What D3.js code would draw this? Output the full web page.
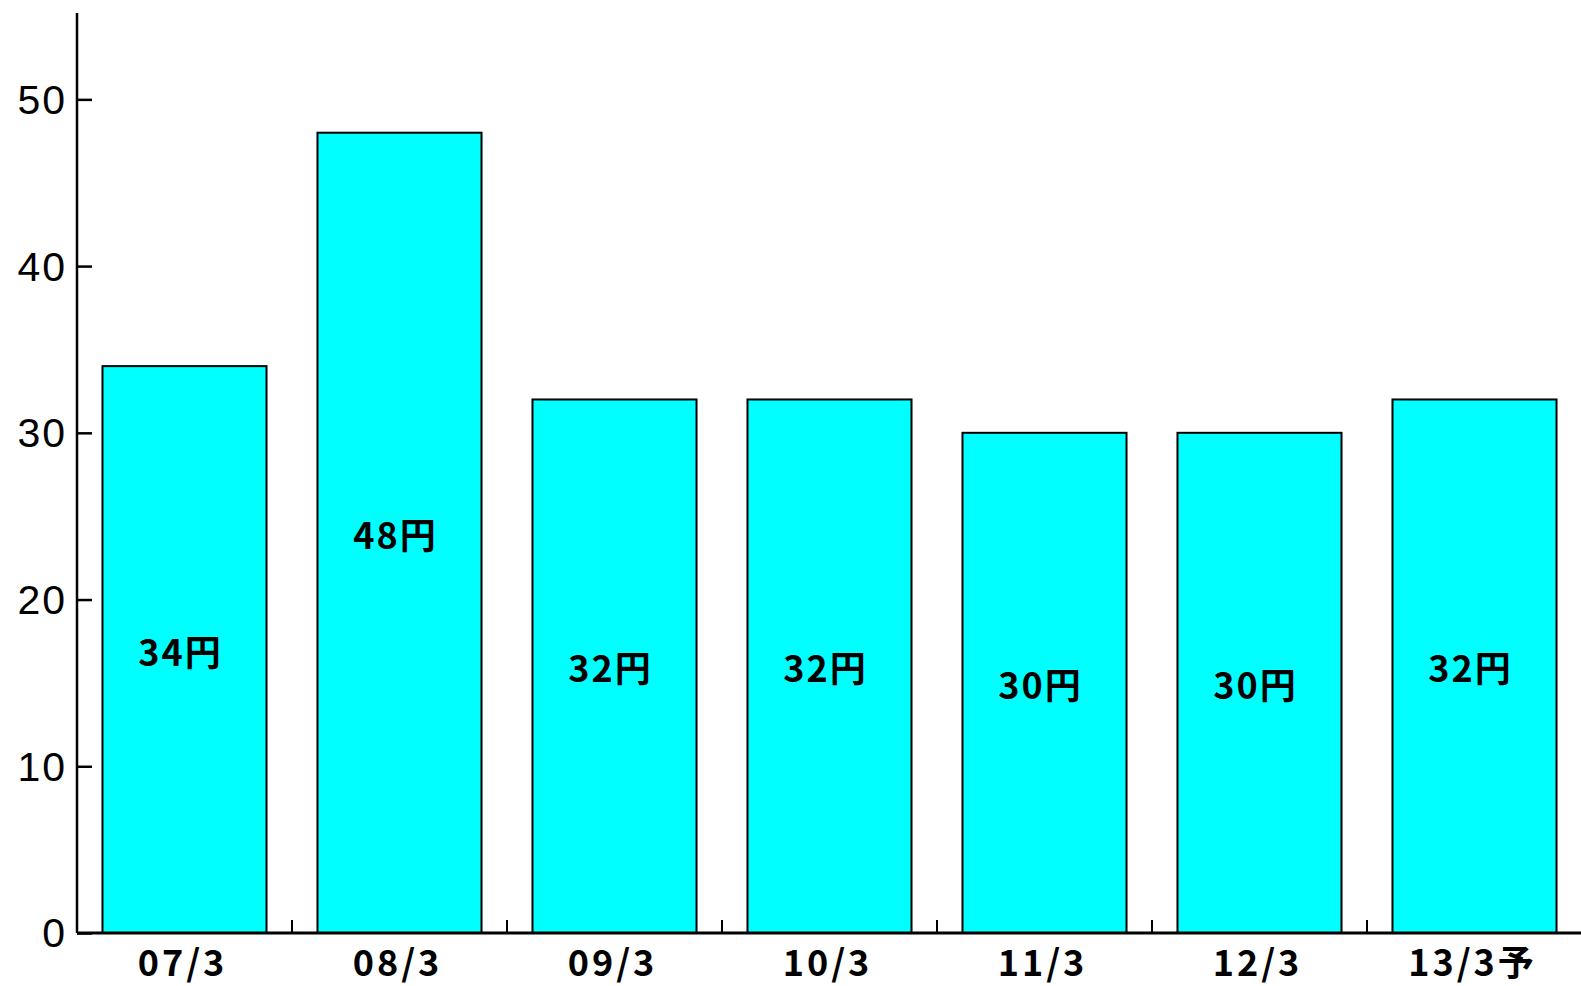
<!DOCTYPE html>
<html>
<head>
<meta charset="utf-8">
<script src="https://cdn.jsdelivr.net/npm/d3@7"></script>
<style>
html,body{margin:0;padding:0;background:#fff;}
svg{display:block;}
</style>
</head>
<body>
<svg id="chart" width="1581" height="986"></svg>
<script>
const categories = ["07/3","08/3","09/3","10/3","11/3","12/3","13/3予"];
const values = [34, 48, 32, 32, 30, 30, 32];
const valueLabels = ["34円","48円","32円","32円","30円","30円","32円"];
const yTicks = [0, 10, 20, 30, 40, 50];

(function(){
const svg = d3.select("#chart");
const mLeft = 77, mRight = 1582, mBottom = 933, mTop = 16;

const x = d3.scaleBand().domain(categories).range([mLeft, mRight]).paddingInner(0.237).paddingOuter(0.1185);
const y = d3.scaleLinear().domain([0, 55]).range([mBottom, mTop]);

// bars
svg.selectAll("rect.bar").data(values).enter().append("rect")
  .attr("class","bar")
  .attr("x",(d,i)=>x(categories[i]))
  .attr("y",d=>y(d))
  .attr("width",x.bandwidth())
  .attr("height",d=>y(0)-y(d))
  .attr("fill","#00ffff")
  .attr("stroke","#000")
  .attr("stroke-width",2);

// bar labels
svg.selectAll("text.vl").data(values).enter().append("text")
  .attr("class","vl")
  .attr("x",(d,i)=>x(categories[i])+x.bandwidth()/2 - 4)
  .attr("y",d=>(y(d)+y(0))/2)
  .attr("text-anchor","middle")
  .attr("dominant-baseline","central")
  .attr("font-family","'Noto Sans CJK JP', sans-serif")
  .attr("font-weight","bold")
  .attr("font-size",36)
  .attr("letter-spacing",2)
  .text((d,i)=>valueLabels[i]);

// y axis
const yAxis = d3.axisLeft(y).tickValues(yTicks).tickSize(-15).tickPadding(12).tickSizeOuter(0);
const gy = svg.append("g").attr("transform",`translate(${mLeft},0)`).call(yAxis);
gy.select(".domain").attr("stroke","#000").attr("stroke-width",2.5).attr("d",`M0,${mBottom}V13`);
gy.selectAll(".tick line").attr("stroke","#000").attr("stroke-width",2.5);
gy.selectAll(".tick text").attr("font-family","'Liberation Sans', Arial, sans-serif")
  .attr("font-size",41).attr("letter-spacing",2).attr("fill","#000").attr("x",-10).attr("dy","0.34em");

// x axis
const gx = svg.append("g").attr("transform",`translate(0,${mBottom})`);
gx.append("line").attr("x1",mLeft).attr("x2",1581).attr("y1",0).attr("y2",0)
  .attr("stroke","#000").attr("stroke-width",3);
const bounds = categories.slice(1).map(c => x(c) - x.step()*x.paddingInner()/2);
gx.selectAll("line.xt").data(bounds).enter().append("line")
  .attr("class","xt")
  .attr("x1",d=>d).attr("x2",d=>d).attr("y1",0).attr("y2",-13)
  .attr("stroke","#000").attr("stroke-width",2);
gx.selectAll("text.xl").data(categories).enter().append("text")
  .attr("class","xl")
  .attr("x",d=>x(d)+x.bandwidth()/2 - 2)
  .attr("y",43)
  .attr("text-anchor","middle")
  .attr("font-family","'Noto Sans CJK JP', sans-serif")
  .attr("font-weight","bold")
  .attr("font-size",36)
  .attr("letter-spacing",3)
  .text(d=>d);
})();
</script>
</body>
</html>
